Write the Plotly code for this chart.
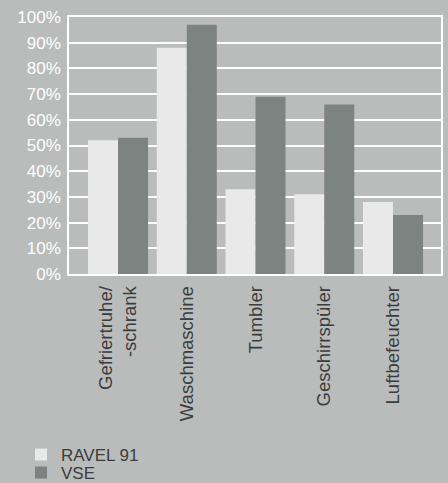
import plotly.graph_objects as go

categories = ["Gefriertruhe/<br>-schrank", "Waschmaschine", "Tumbler", "Geschirrspüler", "Luftbefeuchter"]
ravel91 = [52, 88, 33, 31, 28]
vse = [53, 97, 69, 66, 23]
y_ticks = [0, 10, 20, 30, 40, 50, 60, 70, 80, 90, 100]
y_labels = [f"{v}%" for v in y_ticks]

BG = "#b9bcbb"
LIGHT = "#e8e9e8"
DARK = "#7c8381"
TXT = "#3a3d3d"
FONT = "Liberation Sans"

x_idx = list(range(len(categories)))

fig = go.Figure()
fig.add_trace(go.Bar(name="RAVEL 91", x=x_idx, y=ravel91, legend="legend",
                     marker=dict(color=LIGHT, line=dict(width=0))))
fig.add_trace(go.Bar(name="VSE", x=x_idx, y=vse, legend="legend2",
                     marker=dict(color=DARK, line=dict(width=0))))

legend_common = dict(
    xref="container", yref="container", xanchor="left", yanchor="middle",
    font=dict(size=17, color=TXT, family=FONT),
    bgcolor="rgba(0,0,0,0)", itemwidth=30, borderwidth=0,
)

fig.update_layout(
    template="none",
    width=448, height=483,
    margin=dict(l=69, r=7, t=17, b=209, autoexpand=False),
    paper_bgcolor=BG, plot_bgcolor=BG,
    barmode="group", bargap=0.127, bargroupgap=0,
    font=dict(family=FONT, color=TXT),
    showlegend=True,
    legend=dict(x=21 / 448, y=1 - 455 / 483, **legend_common),
    legend2=dict(x=21 / 448, y=1 - 473 / 483, **legend_common),
    xaxis=dict(
        tickmode="array", tickvals=x_idx, ticktext=categories,
        range=[-0.713, 4.698], tickangle=-90,
        tickfont=dict(size=18.5, color=TXT, family=FONT),
        showgrid=False, zeroline=False, automargin=False,
        showline=True, linecolor="white", linewidth=1.5, mirror=True,
        ticks="", ticklabelstandoff=3,
    ),
    yaxis=dict(
        range=[0, 100], tickmode="array", tickvals=y_ticks, ticktext=y_labels,
        tickfont=dict(size=17, color="white", family=FONT),
        showgrid=True, gridcolor="white", gridwidth=1.5, automargin=False,
        zeroline=False, showline=True, linecolor="white", linewidth=1.5, mirror=True,
        ticks="", ticklabelstandoff=3,
    ),
)

fig.write_html(
    "out.html",
    config={"displayModeBar": False},
    post_script="document.body.style.margin='0px';document.body.style.background='%s';" % BG,
)
